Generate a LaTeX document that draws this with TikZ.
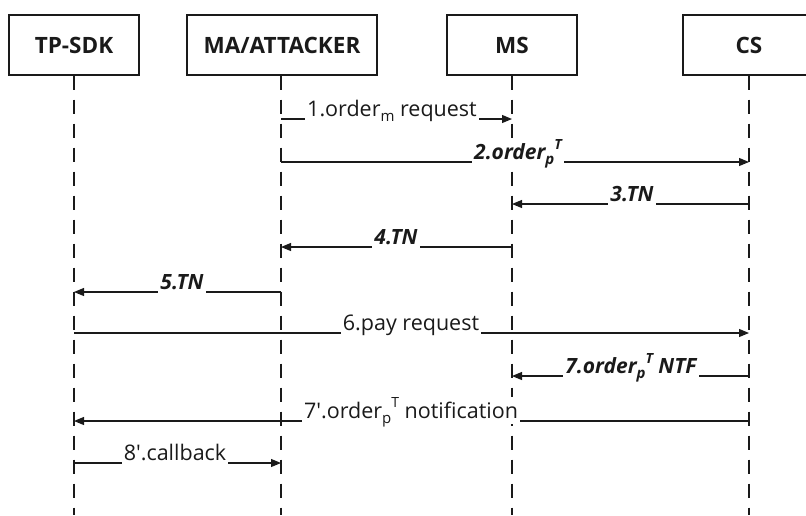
\documentclass[tikz,border=0pt]{standalone}
\usepackage{fontspec}
\newfontfamily\lblfont{Open Sans}
\usetikzlibrary{arrows.meta}
\definecolor{ink}{HTML}{1A1A1A}
% lowered / raised indices in message labels
\newcommand{\lsub}[1]{\raisebox{-0.22em}{\fontsize{15}{15}\selectfont #1}}
\newcommand{\lsup}[1]{\raisebox{0.5em}{\fontsize{14}{14}\selectfont #1}}
\begin{document}
\begin{tikzpicture}[x=1pt,y=-1pt,
  actor/.style={draw=ink, line width=1.4pt, minimum width=130pt, minimum height=60pt,
    inner sep=0pt, font=\lblfont\bfseries\fontsize{22.5}{26}\selectfont, text=ink},
  life/.style={draw=ink, line width=1.2pt, dash pattern=on 14pt off 10pt},
  msg/.style={draw=ink, line width=1.1pt, -{Triangle[length=10pt,width=8pt]}},
  lbl/.style={fill=white, inner xsep=2pt, inner ysep=1pt, anchor=base, yshift=2.5pt,
    text depth=4pt, font=\lblfont\fontsize{21.5}{25}\selectfont, text=ink},
  blbl/.style={lbl, font=\lblfont\bfseries\itshape\fontsize{21}{25}\selectfont}]
\useasboundingbox (0,0) rectangle (806,515);
\clip (0,0) rectangle (806,515);

% participants
\node[actor] (sdk) at (74,45) {TP-SDK};
\node[actor, minimum width=190pt] (ma) at (282,45) {MA/ATTACKER};
\node[actor] (ms) at (512,45) {MS};
\node[actor, minimum width=132pt] (cs) at (749,45) {CS};

% lifelines
\coordinate (bottom) at (0,515);
\coordinate (lma) at (281,0);
\draw[life] (sdk.south) -- (sdk.south |- bottom);
\draw[life] (lma |- ma.south) -- (lma |- bottom);
\draw[life] (ms.south) -- (ms.south |- bottom);
\draw[life] (cs.south) -- (cs.south |- bottom);

% message rows
\coordinate (r1) at (0,119);
\coordinate (r2) at (0,162);
\coordinate (r3) at (0,204);
\coordinate (r4) at (0,247);
\coordinate (r5) at (0,292);
\coordinate (r6) at (0,333);
\coordinate (r7) at (0,376);
\coordinate (r8) at (0,421);
\coordinate (r9) at (0,463);

\draw[msg] (lma |- r1) -- (ms |- r1);
\draw[msg] (lma |- r2) -- (cs |- r2);
\draw[msg] (cs |- r3) -- (ms |- r3);
\draw[msg] (ms |- r4) -- (lma |- r4);
\draw[msg] (lma |- r5) -- (sdk |- r5);
\draw[msg] (sdk |- r6) -- (cs |- r6);
\draw[msg] (cs |- r7) -- (ms |- r7);
\draw[msg] (cs |- r8) -- (sdk |- r8);
\draw[msg] (sdk |- r9) -- (lma |- r9);

% message labels
\node[lbl]  (t1) at (392,119) {1.order\lsub{m} request};
\node[blbl] (t2) at (518,162) {2.order\lsub{p}\lsup{T}};
\node[blbl] (t3) at (632,204) {3.TN};
\node[blbl] (t4) at (396,247) {4.TN};
\node[blbl] (t5) at (182,292) {5.TN};
\node[lbl]  (t6) at (411,333) {6.pay request};
\node[blbl] (t7) at (631,376) {7.order\lsub{p}\lsup{T} NTF};
\node[lbl]  (t8) at (411,421) {7'.order\lsub{p}\lsup{T} notification};
\node[lbl]  (t9) at (175,463) {8'.callback};
\end{tikzpicture}
\end{document}
